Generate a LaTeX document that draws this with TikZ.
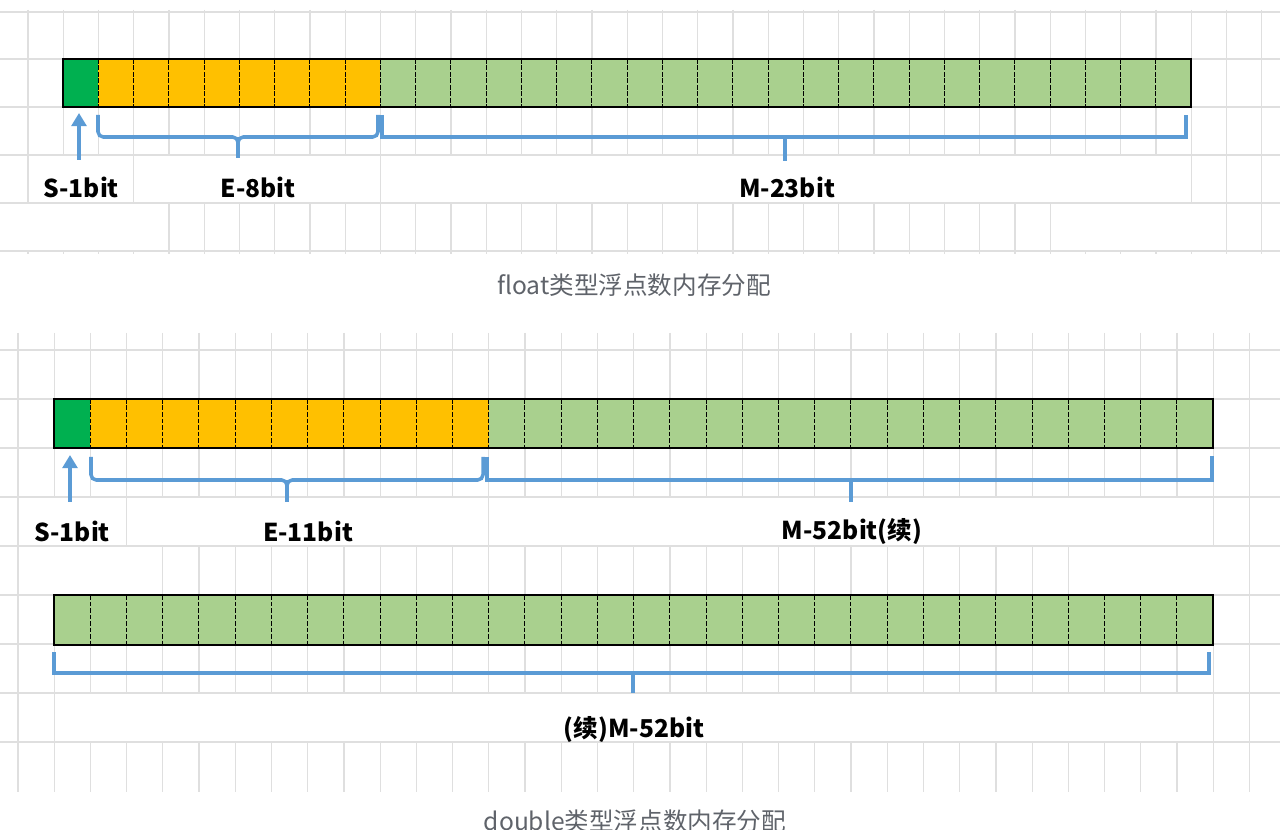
\documentclass[tikz,border=0pt]{standalone}
\usepackage{fontspec}
\setmainfont{Noto Sans CJK SC}
\usetikzlibrary{arrows.meta,calc}

\definecolor{gridgray}{HTML}{DFDFDF}
\definecolor{signgreen}{HTML}{00B050}
\definecolor{expgold}{HTML}{FFC000}
\definecolor{mantgreen}{HTML}{A9D08E}
\definecolor{braceblue}{HTML}{5B9BD5}
\definecolor{capgray}{HTML}{5F636A}

\tikzset{
  gridline/.style={gridgray,line width=0.7pt},
  bitsep/.style={black,dash pattern=on 2.6pt off 1.1pt,line width=0.5pt},
  barframe/.style={draw=black,line width=1pt},
  brace/.style={braceblue,line width=2pt},
  curly/.style={brace,rounded corners=3pt},
  bitlabel/.style={font=\fontsize{14}{16}\selectfont\bfseries,inner sep=0pt},
  caption/.style={text=capgray,font=\fontsize{14}{17}\selectfont,inner sep=0pt},
}

% x0, y0, cell width, height, sign bits, exponent bits
\newcommand{\bitrow}[6]{%
  \pgfmathsetmacro{\xs}{#1+#5*#3}
  \pgfmathsetmacro{\xe}{#1+(#5+#6)*#3}
  \pgfmathsetmacro{\xr}{#1+32*#3}
  \fill[mantgreen] (#1,#2) rectangle (\xr,#2+#4);
  \fill[signgreen] (#1,#2) rectangle (\xs,#2+#4);
  \fill[expgold] (\xs,#2) rectangle (\xe,#2+#4);
  \foreach \k in {1,...,31} \draw[bitsep] (#1+\k*#3,#2) -- (#1+\k*#3,#2+#4);
  \draw[barframe] (#1,#2) rectangle (\xr,#2+#4);
}
\newcommand{\merged}[4]{\fill[white] (#1+0.8,#2+0.8) rectangle (#3-0.8,#4-0.8);}

\begin{document}
\begin{tikzpicture}[x=0.02cm,y=-0.02cm,>=Latex]
  \useasboundingbox (0,0) rectangle (1280,830);

  % sheet grids
  \foreach \k in {0,...,35} \draw[gridline] (28+\k*35.25,10) -- (28+\k*35.25,254);
  \foreach \y in {12,59,107,155,203,251} \draw[gridline] (0,\y) -- (1280,\y);
  \foreach \k in {0,...,34} \draw[gridline] (18+\k*36.22,333) -- (18+\k*36.22,792);
  \foreach \y in {350,399,...,742} \draw[gridline] (0,\y) -- (1280,\y);

  \merged{28}{155}{134}{203}
  \merged{134}{155}{380}{203}
  \merged{380}{155}{1192}{203}
  \merged{-5}{203}{169}{251}
  \merged{1051}{203}{1227}{251}
  \merged{18}{497}{127}{546}
  \merged{127}{497}{489}{546}
  \merged{489}{497}{1213}{546}
  \merged{18}{546}{163}{595}
  \merged{1069}{546}{1250}{595}
  \merged{54}{693}{1213}{742}

  % bit rows
  \bitrow{63}{59}{35.25}{48}{1}{8}
  \bitrow{54}{399}{36.22}{49}{1}{11}
  \bitrow{54}{595}{36.22}{50}{0}{0}

  % float
  \coordinate (fsign) at (79,113);
  \coordinate (ftail) at (79,160);
  \draw[brace,-{Triangle[width=8.5pt,length=7.5pt]}] (ftail) -- (fsign);
  \draw[curly] (98,115) -- (98,137) -- (238,137) -- (238,158);
  \draw[curly] (378,115) -- (378,137) -- (238,137) -- (238,158);
  \draw[brace] (382,115) -- (382,137) -- (1186,137) -- (1186,115)
    (785,137) -- (785,161);
  \node[bitlabel] (fs) at (81,187) {S-1bit};
  \node[bitlabel] (fe) at (258,187) {E-8bit};
  \node[bitlabel] (fm) at (787,187) {M-23bit};
  \node[caption] (fcap) at (634,285) {float类型浮点数内存分配};

  % double
  \coordinate (dsign) at (70,455);
  \coordinate (dtail) at (70,502);
  \draw[brace,-{Triangle[width=8.5pt,length=7.5pt]}] (dtail) -- (dsign);
  \draw[curly] (91,457) -- (91,480) -- (287,480) -- (287,502);
  \draw[curly] (483,457) -- (483,480) -- (287,480) -- (287,502);
  \draw[brace] (487,457) -- (487,480) -- (1212,480) -- (1212,456)
    (851,480) -- (851,502);
  \draw[brace] (54,652) -- (54,673) -- (1209,673) -- (1209,652)
    (633,673) -- (633,693);
  \node[bitlabel] (ds) at (72,531) {S-1bit};
  \node[bitlabel] (de) at (308,531) {E-11bit};
  \node[bitlabel] (dm) at (852,531) {M-52bit(续)};
  \node[bitlabel] (dm2) at (634,729) {(续)M-52bit};
  \node[caption] (dcap) at (635,821) {double类型浮点数内存分配};
\end{tikzpicture}
\end{document}
